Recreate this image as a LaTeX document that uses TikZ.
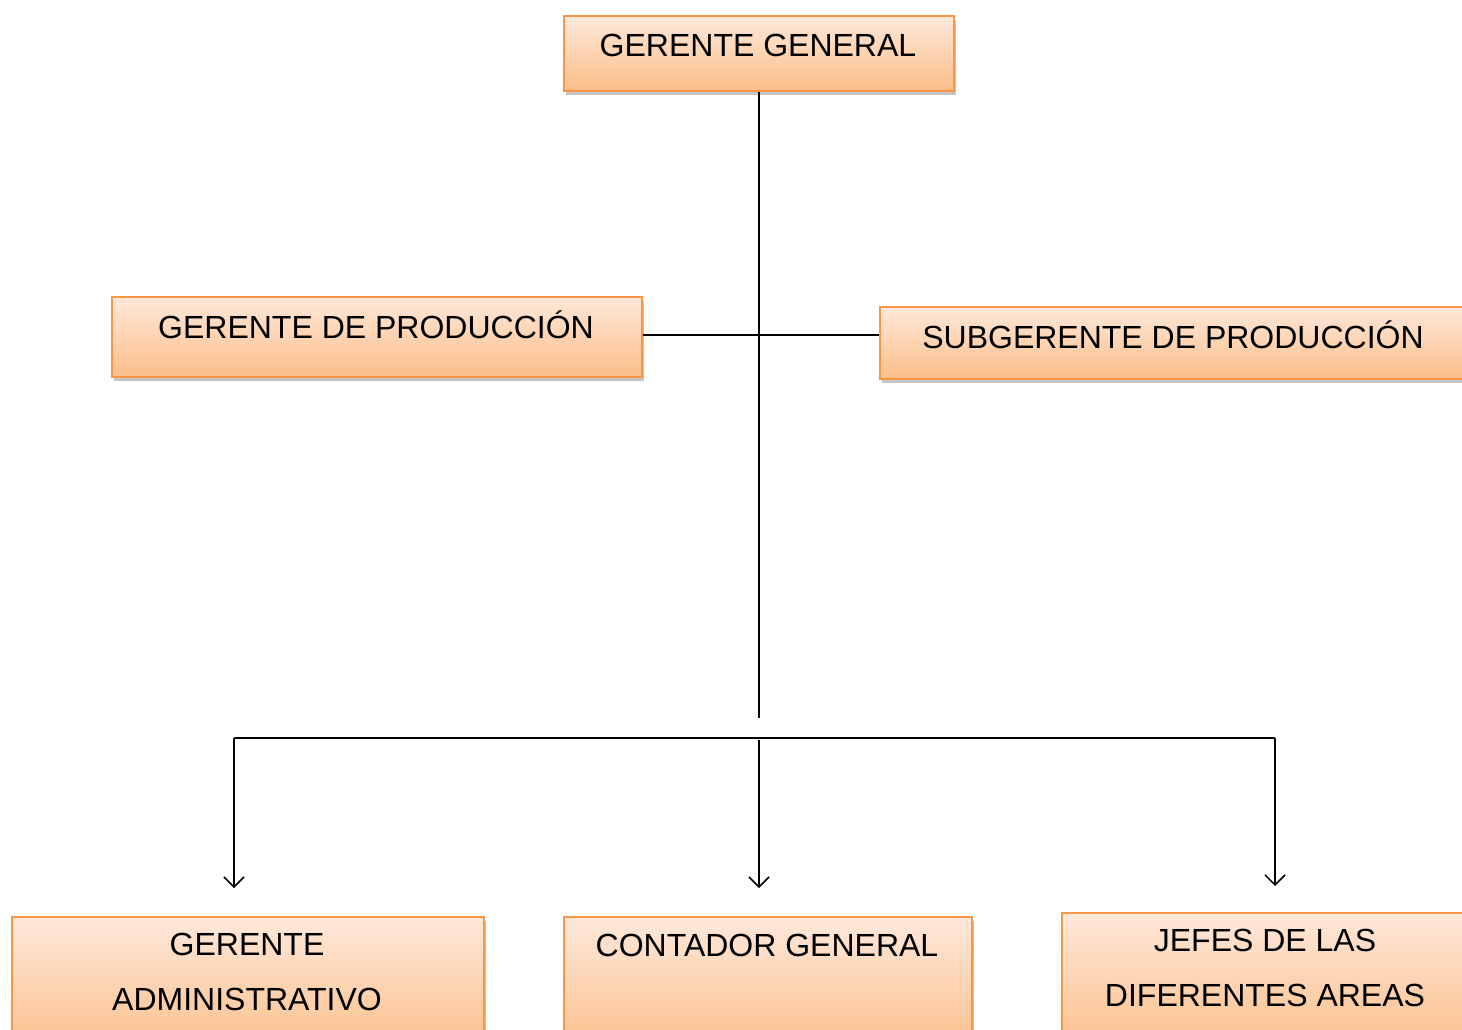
\documentclass[tikz,border=0pt]{standalone}
\usepackage{fontspec}
\setmainfont{Liberation Sans}
\usetikzlibrary{arrows.meta,shadows}
\definecolor{boxline}{HTML}{F79646}
\definecolor{boxtop}{HTML}{FEE8DA}
\definecolor{boxbot}{HTML}{FBBE88}
\tikzset{
  orgbox/.style={draw=boxline, line width=2pt, top color=boxtop, bottom color=boxbot,
    inner sep=0pt, anchor=north west,
    drop shadow={shadow xshift=1.5pt, shadow yshift=-4pt, fill=black!45, opacity=0.5}},
  lbl/.style={font=\fontsize{32}{55}\selectfont, align=center, inner sep=0pt},
  conn/.style={line width=1.5pt, black},
  arr/.style={conn, -{Straight Barb[length=10pt,width=20pt,line width=1.5pt]}}
}
\begin{document}
\begin{tikzpicture}[x=1pt,y=-1pt]
\useasboundingbox (0,0) rectangle (1462,1029);
\clip (0,0) rectangle (1462,1029);
% boxes
\node[orgbox, minimum width=390pt, minimum height=75pt] (gg) at (563,15) {};
\node[lbl] (ggt) at (758,45) {GERENTE GENERAL};
\node[orgbox, minimum width=530pt, minimum height=80pt] (gp) at (111,296) {};
\node[lbl] (gpt) at (376,325) {GERENTE DE PRODUCCIÓN};
\node[orgbox, minimum width=600pt, minimum height=72pt] (sp) at (879,306) {};
\node[lbl] (spt) at (1173,335) {SUBGERENTE DE PRODUCCIÓN};
\node[orgbox, minimum width=472pt, minimum height=140pt] (ga) at (11,916) {};
\node[lbl] (gat) at (247,972) {GERENTE\\ADMINISTRATIVO};
\node[orgbox, minimum width=408pt, minimum height=140pt] (cg) at (563,916) {};
\node[lbl] (cgt) at (767,945) {CONTADOR GENERAL};
\node[orgbox, minimum width=420pt, minimum height=140pt] (jd) at (1061,912) {};
\node[lbl] (jdt) at (1265,968) {JEFES DE LAS\\DIFERENTES AREAS};
% connectors
\coordinate (vend) at (759,718);
\coordinate (hl) at (234,738);
\coordinate (hr) at (1275,738);
\coordinate (hm) at (759,740);
\coordinate (a1) at (234,888);
\coordinate (a2) at (759,888);
\coordinate (a3) at (1275,886);
\draw[conn] (gg.south -| vend) -- (vend);
\draw[conn] (gp.east |- 0,335) -- (sp.west |- 0,335);
\draw[conn] (hl) -- (hr);
\draw[arr] (hl) -- (a1);
\draw[arr] (hm) -- (a2);
\draw[arr] (hr) -- (a3);
\end{tikzpicture}
\end{document}
